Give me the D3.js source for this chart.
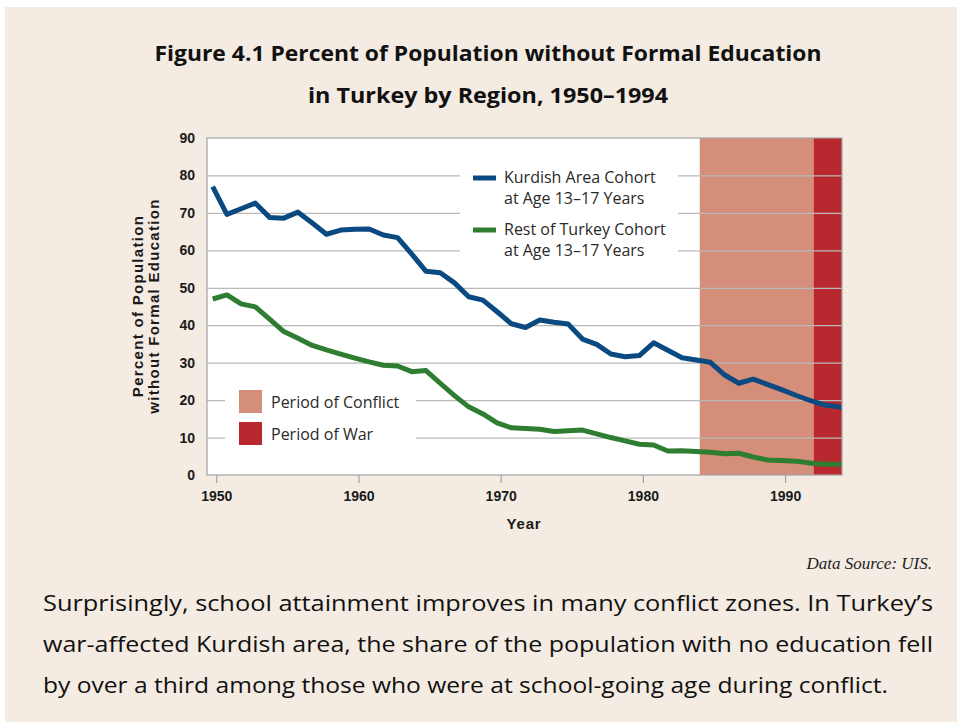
<!DOCTYPE html>
<html>
<head>
<meta charset="utf-8">
<script src="https://cdn.jsdelivr.net/npm/d3@7"></script>
<style>
  html, body { margin: 0; padding: 0; background: #ffffff; }
  svg { display: block; }
</style>
</head>
<body>
<div id="wrapper"></div>
<script>
// 1. Data

const years = [
    1950, 1951, 1952, 1953, 1954, 1955, 1956, 1957, 1958, 1959,
    1960, 1961, 1962, 1963, 1964, 1965, 1966, 1967, 1968, 1969,
    1970, 1971, 1972, 1973, 1974, 1975, 1976, 1977, 1978, 1979,
    1980, 1981, 1982, 1983, 1984, 1985, 1986, 1987, 1988, 1989,
    1990, 1991, 1992, 1993, 1994, 1995
];

const kurdish = [
    77.0, 69.6, 71.1, 72.6, 68.8, 68.6, 70.2, 67.3, 64.3, 65.4,
    65.6, 65.7, 64.1, 63.4, 59.0, 54.4, 54.0, 51.3, 47.6, 46.7,
    43.6, 40.4, 39.4, 41.4, 40.8, 40.3, 36.3, 34.9, 32.3, 31.6,
    31.9, 35.3, 33.3, 31.3, 30.7, 30.1, 26.7, 24.5, 25.6, 24.2,
    22.8, 21.3, 19.9, 18.7, 18.2, 17.9
];

const restOfTurkey = [
    47.0, 48.1, 45.7, 44.9, 41.6, 38.3, 36.5, 34.6, 33.4, 32.3,
    31.2, 30.2, 29.3, 29.1, 27.6, 27.9, 24.5, 21.2, 18.2, 16.3,
    13.9, 12.6, 12.4, 12.2, 11.6, 11.8, 12.0, 11.0, 10.0, 9.1,
    8.2, 8.0, 6.4, 6.5, 6.3, 6.1, 5.7, 5.8, 4.8, 4.0,
    3.9, 3.7, 3.2, 2.9, 2.9, 2.9
];

const conflictPeriod = [1984, 1992];
const warPeriod = [1992, 1994];

const yTicks = [0, 10, 20, 30, 40, 50, 60, 70, 80, 90];
const xTicks = [1950, 1960, 1970, 1980, 1990];

const titleLines = [
    "Figure 4.1 Percent of Population without Formal Education",
    "in Turkey by Region, 1950\u20131994"
];
const yLabelLines = ["Percent of Population", "without Formal Education"];
const seriesLabels = [
    ["Kurdish Area Cohort", "at Age 13\u201317 Years"],
    ["Rest of Turkey Cohort", "at Age 13\u201317 Years"]
];
const periodLabels = ["Period of Conflict", "Period of War"];
const sourceNote = "Data Source: UIS.";
const paragraph = [
    "Surprisingly, school attainment improves in many conflict zones. In Turkey\u2019s",
    "war-affected Kurdish area, the share of the population with no education fell",
    "by over a third among those who were at school-going age during conflict."
];

// cohort points sit a quarter year left of their tick
const cohortShift = -0.25;

// 2. Dimensions

const dimensions = {
    width: 957,
    height: 722,
    margin: { top: 138, right: 115, bottom: 247, left: 207 }
};
dimensions.boundedWidth = dimensions.width - dimensions.margin.left - dimensions.margin.right;
dimensions.boundedHeight = dimensions.height - dimensions.margin.top - dimensions.margin.bottom;

const colors = {
    page: "#f4ebe2",
    kurdish: "#0b4a80",
    rest: "#2e7d31",
    conflict: "#d48e7a",
    war: "#b8292f",
    grid: "#b9b9b9",
    frame: "#a3a3a3"
};

// 3. Canvas

const wrapper = d3.select("#wrapper")
    .append("svg")
    .attr("width", dimensions.width)
    .attr("height", dimensions.height);

wrapper.append("rect")
    .attr("x", 5)
    .attr("y", 7)
    .attr("width", dimensions.width - 5)
    .attr("height", dimensions.height - 7)
    .attr("fill", colors.page);

const title = wrapper.append("g")
    .attr("font-family", "'Open Sans', sans-serif")
    .attr("font-weight", "bold")
    .attr("font-size", 22)
    .attr("fill", "#111")
    .attr("text-anchor", "middle");

title.selectAll("text")
    .data(titleLines)
    .join("text")
    .attr("x", 488)
    .attr("y", (d, i) => 61 + i * 42)
    .attr("textLength", (d, i) => [667, 360][i])
    .attr("lengthAdjust", "spacingAndGlyphs")
    .text(d => d);

const bounds = wrapper.append("g")
    .attr("transform", `translate(${dimensions.margin.left}, ${dimensions.margin.top})`);

// 4. Scales

const xScale = d3.scaleLinear()
    .domain([1949.35, 1994])
    .range([0, dimensions.boundedWidth]);

const yScale = d3.scaleLinear()
    .domain([0, 90])
    .range([dimensions.boundedHeight, 0]);

// 5. Plot background, periods, grid

bounds.append("rect")
    .attr("width", dimensions.boundedWidth)
    .attr("height", dimensions.boundedHeight)
    .attr("fill", "#ffffff");

bounds.selectAll(".period")
    .data([
        { range: conflictPeriod, color: colors.conflict },
        { range: warPeriod, color: colors.war }
    ])
    .join("rect")
    .attr("class", "period")
    .attr("x", d => xScale(d.range[0]))
    .attr("width", d => xScale(d.range[1]) - xScale(d.range[0]))
    .attr("y", 0)
    .attr("height", dimensions.boundedHeight)
    .attr("fill", d => d.color);

const yGridGenerator = d3.axisLeft(yScale)
    .tickValues(yTicks.filter(d => d > 0 && d < 90))
    .tickSize(-dimensions.boundedWidth)
    .tickFormat("");

bounds.append("g")
    .call(yGridGenerator)
    .call(g => g.select(".domain").remove())
    .call(g => g.selectAll("line")
        .attr("stroke", colors.grid)
        .attr("stroke-width", 1.2));

// legend boxes knock the grid out
bounds.append("rect")
    .attr("x", 460 - dimensions.margin.left)
    .attr("y", 163 - dimensions.margin.top)
    .attr("width", 218)
    .attr("height", 101)
    .attr("fill", "#ffffff");

bounds.append("rect")
    .attr("x", 225 - dimensions.margin.left)
    .attr("y", 385 - dimensions.margin.top)
    .attr("width", 191)
    .attr("height", 66)
    .attr("fill", "#ffffff");

// 6. Lines

bounds.append("clipPath")
    .attr("id", "plot-clip")
    .append("rect")
    .attr("width", dimensions.boundedWidth)
    .attr("height", dimensions.boundedHeight);

const lineGenerator = values => d3.line()
    .x((d, i) => xScale(years[i] + cohortShift))
    .y(d => yScale(d))(values);

const lines = bounds.append("g")
    .attr("clip-path", "url(#plot-clip)");

lines.selectAll("path")
    .data([
        { values: restOfTurkey, color: colors.rest },
        { values: kurdish, color: colors.kurdish }
    ])
    .join("path")
    .attr("d", d => lineGenerator(d.values))
    .attr("fill", "none")
    .attr("stroke", d => d.color)
    .attr("stroke-width", 5)
    .attr("stroke-linejoin", "round");

// frame
bounds.append("rect")
    .attr("width", dimensions.boundedWidth)
    .attr("height", dimensions.boundedHeight)
    .attr("fill", "none")
    .attr("stroke", colors.frame)
    .attr("stroke-width", 1.2);

// 7. Axes

const yAxisGenerator = d3.axisLeft(yScale)
    .tickValues(yTicks)
    .tickSize(0)
    .tickPadding(12);

bounds.append("g")
    .call(yAxisGenerator)
    .call(g => g.select(".domain").remove())
    .call(g => g.selectAll("text")
        .attr("font-family", "'Liberation Sans', Arial, sans-serif")
        .attr("font-weight", "bold")
        .attr("font-size", 14)
        .attr("fill", "#1a1a1a"));

const xAxisGenerator = d3.axisBottom(xScale)
    .tickValues(xTicks)
    .tickFormat(d3.format("d"))
    .tickSize(8)
    .tickPadding(8);

bounds.append("g")
    .attr("transform", `translate(0, ${dimensions.boundedHeight})`)
    .call(xAxisGenerator)
    .call(g => g.select(".domain").remove())
    .call(g => g.selectAll("line").attr("stroke", colors.frame).attr("stroke-width", 1.2))
    .call(g => g.selectAll("text")
        .attr("font-family", "'Liberation Sans', Arial, sans-serif")
        .attr("font-weight", "bold")
        .attr("font-size", 14)
        .attr("fill", "#1a1a1a"));

bounds.append("text")
    .attr("x", 524 - dimensions.margin.left)
    .attr("y", 529 - dimensions.margin.top)
    .attr("text-anchor", "middle")
    .attr("font-family", "'Liberation Sans', Arial, sans-serif")
    .attr("font-weight", "bold")
    .attr("font-size", 15)
    .attr("letter-spacing", 0.8)
    .attr("fill", "#1a1a1a")
    .text("Year");

wrapper.append("g")
    .attr("transform", "translate(0, 306) rotate(-90)")
    .selectAll("text")
    .data(yLabelLines)
    .join("text")
    .attr("x", 0)
    .attr("y", (d, i) => 143 + i * 16)
    .attr("text-anchor", "middle")
    .attr("font-family", "'Liberation Sans', Arial, sans-serif")
    .attr("font-weight", "bold")
    .attr("font-size", 15)
    .attr("letter-spacing", 1.3)
    .attr("fill", "#1a1a1a")
    .text(d => d);

// 8. Legends

const legendFont = "'Open Sans', sans-serif";

const seriesLegend = wrapper.append("g")
    .selectAll("g")
    .data(seriesLabels)
    .join("g")
    .attr("transform", (d, i) => `translate(473, ${178 + i * 52})`);

seriesLegend.append("line")
    .attr("x1", 0)
    .attr("x2", 23)
    .attr("stroke", (d, i) => [colors.kurdish, colors.rest][i])
    .attr("stroke-width", 5);

seriesLegend.selectAll("text")
    .data(d => d)
    .join("text")
    .attr("x", 31)
    .attr("y", (d, i) => 5 + i * 21)
    .attr("font-family", legendFont)
    .attr("font-size", 16)
    .attr("fill", "#2a2a2a")
    .text(d => d);

const periodLegend = wrapper.append("g")
    .selectAll("g")
    .data(periodLabels)
    .join("g")
    .attr("transform", (d, i) => `translate(239, ${390 + i * 32})`);

periodLegend.append("rect")
    .attr("width", 23)
    .attr("height", 23)
    .attr("fill", (d, i) => [colors.conflict, colors.war][i]);

periodLegend.append("text")
    .attr("x", 32)
    .attr("y", 18)
    .attr("font-family", legendFont)
    .attr("font-size", 16)
    .attr("fill", "#2a2a2a")
    .text(d => d);

// 9. Notes

wrapper.append("text")
    .attr("x", 932)
    .attr("y", 569)
    .attr("text-anchor", "end")
    .attr("font-family", "'Liberation Serif', 'Times New Roman', serif")
    .attr("font-style", "italic")
    .attr("font-size", 17)
    .attr("fill", "#222")
    .text(sourceNote);

wrapper.append("g")
    .selectAll("text")
    .data(paragraph)
    .join("text")
    .attr("x", 43)
    .attr("y", (d, i) => 611 + i * 41)
    .attr("textLength", (d, i) => [890, 890, 845][i])
    .attr("lengthAdjust", "spacingAndGlyphs")
    .attr("font-family", "'Open Sans', sans-serif")
    .attr("font-size", 22)
    .attr("fill", "#111")
    .text(d => d);
</script>
</body>
</html>
